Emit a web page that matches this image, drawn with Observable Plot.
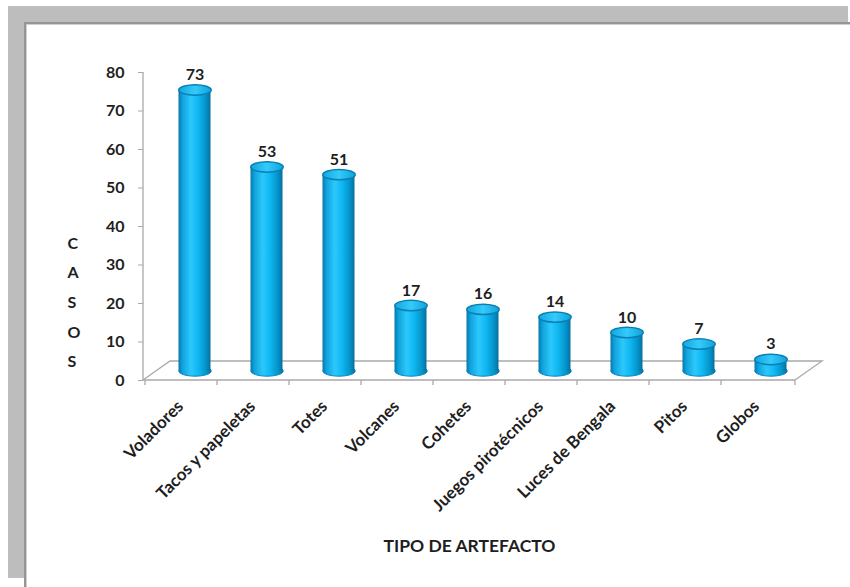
<!DOCTYPE html>
<html>
<head>
<meta charset="utf-8">
<script src="https://cdn.jsdelivr.net/npm/d3@7"></script>
<script src="https://cdn.jsdelivr.net/npm/@observablehq/plot@0.6"></script>
<style>
  html, body { margin: 0; padding: 0; background: #fff; }
  #page { position: relative; width: 850px; height: 587px; overflow: hidden; background: #fff; font-family: Lato, "Open Sans", sans-serif; }
  #gray { position: absolute; left: 8px; top: 6px; width: 840px; height: 572px; background: #bdbdbd; }
  #inner { position: absolute; left: 24px; top: 22px; right: 0; bottom: 0; background: #fff; border-left: 2px solid #959595; border-top: 2px solid #959595; box-shadow: inset 1px 1px 0 #cfcfcf; }
  #chart { position: absolute; left: 0; top: 0; }
</style>
</head>
<body>
<svg width="0" height="0" style="position:absolute">
  <defs>
    <linearGradient id="cyl" x1="0" x2="1" y1="0" y2="0">
      <stop offset="0" stop-color="#0877a8"/>
      <stop offset="0.12" stop-color="#0ea2dc"/>
      <stop offset="0.38" stop-color="#2cc8fc"/>
      <stop offset="0.6" stop-color="#10b8f2"/>
      <stop offset="0.85" stop-color="#0494cb"/>
      <stop offset="1" stop-color="#066f9c"/>
    </linearGradient>
    <linearGradient id="cyltop" x1="0" x2="1" y1="0" y2="0">
      <stop offset="0" stop-color="#12a8e0"/>
      <stop offset="0.5" stop-color="#35cafa"/>
      <stop offset="1" stop-color="#0ea4dc"/>
    </linearGradient>
  </defs>
</svg>
<div id="page">
  <div id="gray"></div>
  <div id="inner"></div>
  <div id="chart"></div>
</div>
<script>
const categories = ["Voladores", "Tacos y papeletas", "Totes", "Volcanes", "Cohetes", "Juegos pirotécnicos", "Luces de Bengala", "Pitos", "Globos"];
const casos = [73, 53, 51, 17, 16, 14, 10, 7, 3];
const yTicks = [0, 10, 20, 30, 40, 50, 60, 70, 80];
const xTitle = "TIPO DE ARTEFACTO";
const yTitle = "C\nA\nS\nO\nS";

const data = categories.map((c, i) => ({cat: c, value: casos[i]}));

// 3D depth offset
const DX = 27, DY = -19;
const HX = DX / 2, HY = DY / 2;
const INK = "#1e1e1e";

const ellipse = {
  draw(ctx, size) {
    const rx = Math.sqrt(size / Math.PI), ry = rx * 0.32, k = 0.5523;
    ctx.moveTo(rx, 0);
    ctx.bezierCurveTo(rx, ry * k, rx * k, ry, 0, ry);
    ctx.bezierCurveTo(-rx * k, ry, -rx, ry * k, -rx, 0);
    ctx.bezierCurveTo(-rx, -ry * k, -rx * k, -ry, 0, -ry);
    ctx.bezierCurveTo(rx * k, -ry, rx, -ry * k, rx, 0);
    ctx.closePath();
  }
};

function floorAndAxes(index, scales, values, dimensions) {
  const {width, marginLeft, marginRight} = dimensions;
  const x0 = marginLeft, x1 = width - marginRight;
  const y0 = scales.y(0), yTop = scales.y(yTicks[yTicks.length - 1]);
  const g = d3.create("svg:g").attr("fill", "none").attr("stroke", "#a9a9a9").attr("stroke-width", 1.3);
  g.append("path").attr("d", `M${x0},${y0}L${x0 + DX},${y0 + DY}H${x1 + DX}L${x1},${y0}`);
  g.append("path").attr("d", `M${x0},${y0}H${x1}`);
  const bounds = categories.map(c => scales.x(c)).concat([x1]);
  for (const bx of bounds) g.append("path").attr("d", `M${bx},${y0}V${y0 + 5}`);
  g.append("path").attr("d", `M${x0},${y0}V${yTop}`);
  return g.node();
}

const plot = Plot.plot({
  width: 850,
  height: 587,
  marginLeft: 143,
  marginRight: 55,
  marginTop: 72,
  marginBottom: 207,
  style: {background: "transparent", fontFamily: "Lato, 'Open Sans', sans-serif", color: INK},
  x: {type: "band", domain: categories, padding: 0, axis: null},
  y: {domain: [0, 80], axis: null},
  marks: [
    floorAndAxes,
    Plot.axisY({ticks: yTicks, tickSize: 5, tickPadding: 14, fontSize: 16, fontWeight: "bold", label: null, stroke: "#a9a9a9", fill: INK}),
    Plot.dot(data, {x: "cat", y: () => 0, r: 16.2, symbol: ellipse, fill: "url(#cyl)", stroke: "#0b86bb", strokeWidth: 1, dx: HX, dy: HY}),
    Plot.rectY(data, {x: "cat", y: "value", insetLeft: 20, insetRight: 20, fill: "url(#cyl)", dx: HX, dy: HY}),
    Plot.dot(data, {x: "cat", y: "value", r: 16.2, symbol: ellipse, fill: "url(#cyltop)", stroke: "#0a7fb2", strokeWidth: 1.5, dx: HX, dy: HY}),
    Plot.text(data, {x: "cat", y: "value", text: d => String(d.value), dx: HX, dy: HY - 10, lineAnchor: "bottom", fontSize: 16, fontWeight: "bold", fill: INK}),
    Plot.text(categories, {x: d => d, text: d => d, frameAnchor: "bottom", rotate: -45, textAnchor: "end", lineAnchor: "middle", dx: -1, dy: 23, fontSize: 17, fontWeight: "bold", fill: INK}),
    Plot.text([xTitle], {text: d => d, frameAnchor: "bottom", dy: 171, fontSize: 17.5, fontWeight: "bold", fill: INK}),
    Plot.text([yTitle], {text: d => d, frameAnchor: "left", dx: -76, dy: 72, lineHeight: 1.85, fontSize: 16, fontWeight: "bold", fill: INK})
  ]
});
document.getElementById("chart").appendChild(plot);
</script>
</body>
</html>
